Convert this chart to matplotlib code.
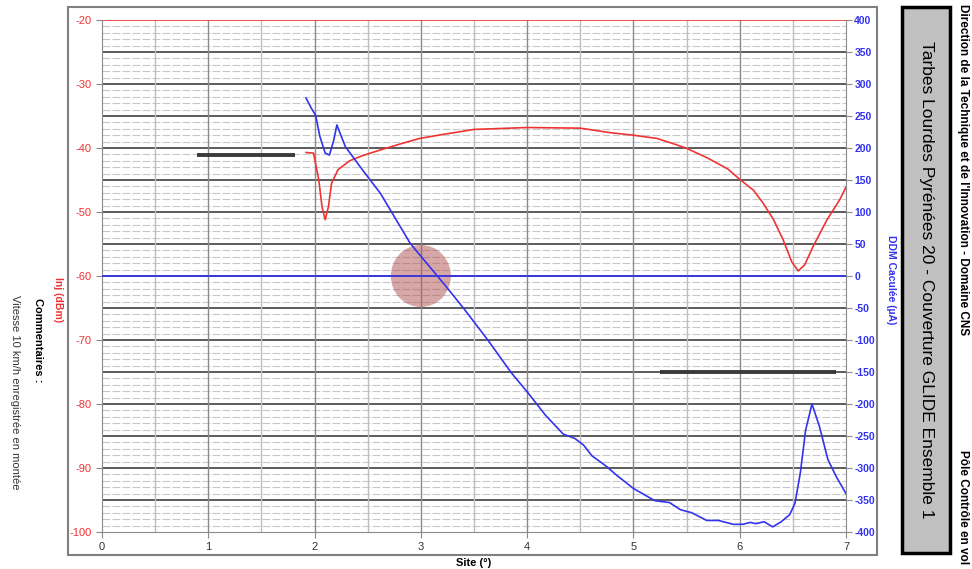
import numpy as np
import matplotlib
matplotlib.use("Agg")
import matplotlib.pyplot as plt
from matplotlib.patches import Ellipse, Rectangle

plt.rcParams["font.family"] = ["Liberation Sans", "DejaVu Sans"]
plt.rcParams["axes.unicode_minus"] = False

# Inj (dBm) vs site (deg)
site_inj = [1.92, 1.99, 2.04, 2.07, 2.10, 2.13, 2.16, 2.22, 2.33, 2.45, 2.62, 2.80, 2.99,
            3.20, 3.37, 3.50, 4.00, 4.50, 4.78, 5.00, 5.22, 5.37, 5.50, 5.69, 5.89, 6.00,
            6.13, 6.22, 6.32, 6.41, 6.49, 6.55, 6.61, 6.69, 6.82, 6.94, 7.00]
inj = [-40.7, -40.8, -45.0, -49.2, -51.2, -49.2, -45.5, -43.4, -42.0, -41.2, -40.3, -39.4, -38.5,
       -37.9, -37.45, -37.1, -36.8, -36.9, -37.6, -38.0, -38.5, -39.3, -40.05, -41.5, -43.3, -44.9,
       -46.6, -48.6, -51.25, -54.4, -57.8, -59.2, -58.3, -55.4, -51.25, -48.1, -46.1]

# DDM calculee (uA) vs site (deg)
site_ddm = [1.92, 1.97, 2.01, 2.05, 2.10, 2.14, 2.18, 2.21, 2.24, 2.29, 2.45, 2.62, 2.90, 2.99,
            3.24, 3.40, 3.63, 3.85, 4.01, 4.09, 4.17, 4.26, 4.34, 4.45, 4.53, 4.61, 4.685, 4.75,
            4.84, 5.00, 5.20, 5.34, 5.44, 5.55, 5.69, 5.80, 5.94, 6.03, 6.10, 6.15, 6.23, 6.31,
            6.39, 6.47, 6.52, 6.57, 6.62, 6.68, 6.75, 6.83, 6.91, 7.00]
ddm = [278, 262, 251, 218, 192, 189, 212, 236, 223, 202, 166, 129, 51, 33,
       -17, -50, -100, -151, -183, -200, -217, -233, -247, -254, -264, -281, -290, -298,
       -311, -332, -351, -354, -365, -370, -382, -382, -388, -388, -385, -387, -384, -392,
       -384, -373, -355, -308, -241, -200, -235, -287, -314, -340]

# reference marks
inj_limit_x = [0.89, 1.815]
inj_limit = -41.15
ddm_limit_x = [5.25, 6.91]
ddm_limit = -150
circle_site, circle_inj = 3.0, -60.0

fig = plt.figure(figsize=(9.72, 5.69), dpi=100)
W, H = 972, 569

# outer frame and title box
fig.add_artist(Rectangle((68 / W, 1 - 555 / H), (877 - 68) / W, (555 - 7) / H,
                         transform=fig.transFigure, fill=False, edgecolor="#808080", lw=1.5))
fig.add_artist(Rectangle((902 / W, 1 - 553 / H), 48 / W, 546 / H,
                         transform=fig.transFigure, facecolor="#c0c0c0", edgecolor="black", lw=2.5))

ax = fig.add_axes([102 / W, 37 / H, 744 / W, 512 / H])
ax.set_xlim(0, 7)
ax.set_ylim(-100, -20)

# grid
for y in range(-99, -20):
    if y % 5 != 0:
        ax.axhline(y, color="#c8c8c8", lw=0.8, ls=(0, (7, 2)), zorder=0)
for y in range(-95, -20, 5):
    ax.axhline(y, color="#404040", lw=1.2, zorder=1)
for x in np.arange(0.5, 7.0, 0.5):
    c = "#8a8a8a" if x % 1 == 0 else "#bdbdbd"
    ax.axvline(x, color=c, lw=1.0, zorder=1)
ax.axhline(-20, color="#ee3333", lw=1.2, zorder=2)

for s in ["left", "bottom", "right"]:
    ax.spines[s].set_color("#8a8a8a")
ax.spines["top"].set_visible(False)

ax.add_patch(Ellipse((circle_site, circle_inj), 0.565, 9.7, color="#b05050", alpha=0.5, lw=0, zorder=3))
ax.plot(inj_limit_x, [inj_limit, inj_limit], color="#3a3a3a", lw=2.8, solid_capstyle="butt", zorder=4)
ax.plot(site_inj, inj, color="#ee3333", lw=1.2, zorder=5)

ax.set_xticks(range(0, 8))
ax.set_yticks(range(-100, -10, 10))
ax.tick_params(axis="x", colors="#8a8a8a", labelcolor="#333333", labelsize=8, length=4)
ax.tick_params(axis="y", colors="#8a8a8a", labelcolor="#ee3333", labelsize=8, length=4)
ax.set_xlabel("Site (°)", fontsize=8, fontweight="bold", labelpad=4)

ax2 = ax.twinx()
ax2.set_ylim(-400, 400)
ax2.set_yticks(range(-400, 450, 50))
ax2.tick_params(axis="y", colors="#8a8a8a", labelcolor="#3333ee", labelsize=7.5, length=4, pad=2)
for lab in ax2.get_yticklabels():
    lab.set_fontweight("bold")
for s in ax2.spines.values():
    s.set_visible(False)
ax2.axhline(0, color="#3333ee", lw=1.2)
ax2.plot(ddm_limit_x, [ddm_limit, ddm_limit], color="#3a3a3a", lw=2.8, solid_capstyle="butt")
ax2.plot(site_ddm, ddm, color="#3333ee", lw=1.2)

# side texts
fig.text(58 / W, 1 - 300 / H, "Inj (dBm)", color="#ee3333", fontsize=7.5, fontweight="bold",
         rotation=-90, ha="center", va="center")
fig.text(38 / W, 1 - 298 / H, "Commentaires :", color="black", fontsize=8, fontweight="bold",
         rotation=-90, ha="center", va="top")
fig.text(15 / W, 1 - 295 / H, "Vitesse 10 km/h enregistrée en montée", color="#333333", fontsize=8,
         rotation=-90, ha="center", va="top")
fig.text(891 / W, 1 - 280 / H, "DDM Caculée (µA)", color="#3333ee", fontsize=7.5, fontweight="bold",
         rotation=-90, ha="center", va="center")
fig.text(926 / W, 1 - 280 / H, "Tarbes Lourdes Pyrénées 20 - Couverture GLIDE Ensemble 1",
         color="black", fontsize=12.5, rotation=-90, ha="center", va="center")
fig.text(963 / W, 1 - 4 / H, "Direction de la Technique et de l'Innovation - Domaine CNS",
         color="black", fontsize=8.5, fontweight="bold", rotation=-90, ha="center", va="top")
fig.text(963 / W, 1 - 450 / H, "Pôle Contrôle en vol", color="black", fontsize=8.5,
         fontweight="bold", rotation=-90, ha="center", va="top")

fig.savefig("out.png", dpi=100)
